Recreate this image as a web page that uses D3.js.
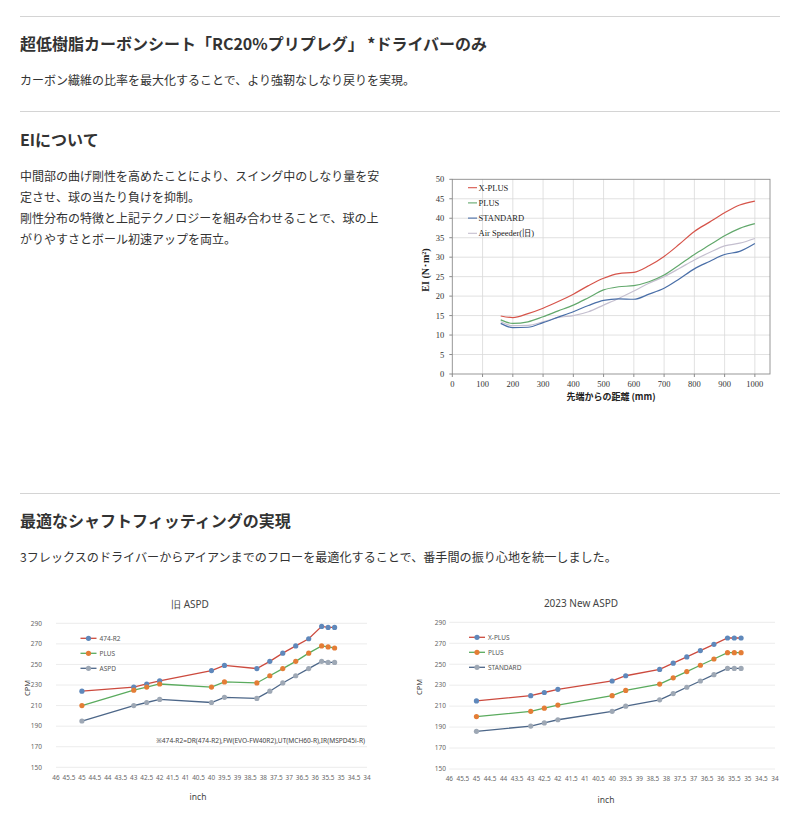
<!DOCTYPE html>
<html><head><meta charset="utf-8">
<script src="https://cdn.jsdelivr.net/npm/d3@7"></script>
<style>
html,body{margin:0;padding:0;background:#fff;}
svg text{font-family:"Noto Sans CJK JP","Noto Sans",sans-serif;}
</style></head>
<body>
<svg id="page" width="800" height="824"></svg>
<script>
// ---------- Text content ----------
const heading1 = "超低樹脂カーボンシート「RC20%プリプレグ」 *ドライバーのみ";
const body1 = "カーボン繊維の比率を最大化することで、より強靭なしなり戻りを実現。";
const heading2 = "EIについて";
const body2 = ["中間部の曲げ剛性を高めたことにより、スイング中のしなり量を安",
               "定させ、球の当たり負けを抑制。",
               "剛性分布の特徴と上記テクノロジーを組み合わせることで、球の上",
               "がりやすさとボール初速アップを両立。"];
const heading3 = "最適なシャフトフィッティングの実現";
const body3 = "3フレックスのドライバーからアイアンまでのフローを最適化することで、番手間の振り心地を統一しました。";

// ---------- EI chart data ----------
const eiDistance = [160,200,250,300,350,400,450,500,550,600,650,700,750,800,850,900,950,1000];
const eiXPlus    = [14.9,14.5,15.5,16.9,18.6,20.5,22.7,24.6,25.8,26.1,27.8,30.2,33.3,36.6,39.0,41.4,43.4,44.4];
const eiPlus     = [13.9,13.0,13.4,14.7,16.2,17.7,19.6,21.6,22.4,22.7,23.7,25.4,28.0,30.7,33.1,35.5,37.4,38.6];
const eiStandard = [13.0,11.9,12.0,13.2,14.6,16.0,17.6,18.9,19.3,19.2,20.5,22.0,24.4,27.0,28.9,30.7,31.5,33.5];
const eiAirSpeeder=[13.4,12.4,12.5,13.4,14.5,15.0,16.0,17.7,19.4,21.3,23.3,25.0,27.1,29.3,31.2,32.9,33.6,34.8];
const eiSeriesNames = ["X-PLUS","PLUS","STANDARD","Air Speeder(旧)"];
const eiXTicks = [0,100,200,300,400,500,600,700,800,900,1000];
const eiYTicks = [0,5,10,15,20,25,30,35,40,45,50];

// ---------- CPM chart data ----------
const cpmLength = [45,43,42.5,42,40,39.5,38.25,37.75,37.25,36.75,36.25,35.75,35.5,35.25];
const oldR2   = [224,228,231,234,244,249,246,253,261,268,275,287,286,286];
const oldPlus = [210,225,228,231,228,233,232,239,246,253,261,268,267,266];
const oldAspd = [195,210,213,216,213,218,217,224,232,239,246,253,252,252];
const newXPlus    = [215,220,223,226,234,239,245,251,257,263,269,275,275,275];
const newPlus     = [200,205,208,211,220,225,231,237,243,249,255,261,261,261];
const newStandard = [186,191,194,197,205,210,216,222,228,234,240,246,246,246];
const oldNames = ["474-R2","PLUS","ASPD"];
const newNames = ["X-PLUS","PLUS","STANDARD"];
const cpmYTicks = [150,170,190,210,230,250,270,290];
const cpmXTicks = d3.range(46, 33.99, -0.5);

const svg = d3.select("#page");

// ---------- page text ----------
function hr(y){ svg.append("line").attr("x1",20).attr("x2",780).attr("y1",y).attr("y2",y)
  .attr("stroke","#d4d4d4").attr("stroke-width",1); }
hr(16.5); hr(111.5); hr(493.5);
function txt(s,x,y,size,weight){ return svg.append("text").attr("x",x).attr("y",y)
  .attr("font-size",size).attr("font-weight",weight||400).attr("fill","#333").text(s); }
txt(heading1,20,50,16,700);
txt(body1,20,84.5,12);
txt(heading2,20,146,16,700);
body2.forEach((s,i)=>txt(s,20,180.5+i*21,12));
txt(heading3,20,527,16,700);
txt(body3,20,561.5,12.1);

// ---------- EI chart ----------
(function(){
  const g = svg.append("g");
  const x = d3.scaleLinear().domain([0,1050]).range([452.3,770]);
  const y = d3.scaleLinear().domain([0,50]).range([374,179.3]);
  const serif = "'Liberation Serif','DejaVu Serif',serif";
  // grid
  g.selectAll(".vg").data(eiXTicks.filter(d=>d>0)).enter().append("line")
    .attr("x1",d=>x(d)).attr("x2",d=>x(d)).attr("y1",y(0)).attr("y2",y(50))
    .attr("stroke","#d9d9d9").attr("stroke-width",0.8);
  g.selectAll(".hg").data(eiYTicks.filter(d=>d>0 && d<50)).enter().append("line")
    .attr("x1",x(0)).attr("x2",x(1050)).attr("y1",d=>y(d)).attr("y2",d=>y(d))
    .attr("stroke","#d9d9d9").attr("stroke-width",0.8);
  // frame
  g.append("rect").attr("x",x(0)).attr("y",y(50)).attr("width",x(1050)-x(0)).attr("height",y(0)-y(50))
    .attr("fill","none").attr("stroke","#8c8c8c").attr("stroke-width",0.9);
  // ticks
  g.selectAll(".yt").data(eiYTicks).enter().append("line")
    .attr("x1",x(0)-3).attr("x2",x(0)).attr("y1",d=>y(d)).attr("y2",d=>y(d)).attr("stroke","#8c8c8c");
  g.selectAll(".xt").data(eiXTicks).enter().append("line")
    .attr("x1",d=>x(d)).attr("x2",d=>x(d)).attr("y1",y(0)).attr("y2",y(0)+3).attr("stroke","#8c8c8c");
  g.selectAll(".yl").data(eiYTicks).enter().append("text")
    .attr("x",x(0)-8).attr("y",d=>y(d)+3).attr("text-anchor","end")
    .style("font-family",serif).attr("font-size",8.5).attr("fill","#333").text(d=>d);
  g.selectAll(".xl").data(eiXTicks).enter().append("text")
    .attr("x",d=>x(d)).attr("y",y(0)+12.5).attr("text-anchor","middle")
    .style("font-family",serif).attr("font-size",8.5).attr("fill","#333").text(d=>d);
  // axis titles
  g.append("text").attr("x",611).attr("y",400).attr("text-anchor","middle")
    .attr("font-size",9).attr("font-weight",700).attr("fill","#222").text("先端からの距離 (mm)");
  g.append("text").attr("transform","translate(429,270) rotate(-90)").attr("text-anchor","middle")
    .style("font-family",serif).attr("font-size",10).attr("font-weight",700).attr("fill","#222").text("EI (N･m²)");
  // lines
  const colors = ["#d6544a","#62a86c","#4a6fa8","#c4bfcf"];
  const series = [eiXPlus,eiPlus,eiStandard,eiAirSpeeder];
  const line = d3.line().x((d,i)=>x(eiDistance[i])).y(d=>y(d)).curve(d3.curveMonotoneX);
  [3,2,1,0].forEach(k=>{
    g.append("path").datum(series[k]).attr("d",line).attr("fill","none")
      .attr("stroke",colors[k]).attr("stroke-width",1.2);
  });
  // legend
  eiSeriesNames.forEach((n,i)=>{
    const ly = 187.7 + i*15.2;
    g.append("line").attr("x1",468).attr("x2",477).attr("y1",ly).attr("y2",ly)
      .attr("stroke",colors[i]).attr("stroke-width",1.1);
    g.append("text").attr("x",478.5).attr("y",ly+3).style("font-family",serif)
      .attr("font-size",8.5).attr("fill","#222").text(n);
  });
})();

// ---------- CPM charts ----------
function cpmChart(opt){
  const g = svg.append("g");
  const x = d3.scaleLinear().domain([46,34]).range(opt.xr);
  const y = d3.scaleLinear().domain([150,290]).range(opt.yr);
  const font = "'Noto Sans','DejaVu Sans',sans-serif";
  g.selectAll(".hg").data(cpmYTicks).enter().append("line")
    .attr("x1",opt.xr[0]).attr("x2",opt.xr[1]).attr("y1",d=>y(d)).attr("y2",d=>y(d))
    .attr("stroke","#ececec").attr("stroke-width",1);
  g.selectAll(".yl").data(cpmYTicks).enter().append("text")
    .attr("x",opt.yLabelX).attr("y",d=>y(d)+2.3).attr("text-anchor","end")
    .style("font-family",font).attr("font-size",6.5).attr("fill","#666").text(d=>d);
  g.selectAll(".xl").data(cpmXTicks).enter().append("text")
    .attr("x",d=>x(d)).attr("y",opt.xLabelY).attr("text-anchor","middle")
    .style("font-family",font).attr("font-size",6.4).attr("fill","#666").text(d=>d3.format("")(d));
  g.append("text").attr("x",opt.titleX).attr("y",opt.titleY).attr("text-anchor","middle")
    .style("font-family",font).attr("font-size",10).attr("fill","#444").text(opt.title);
  g.append("text").attr("x",opt.inchX).attr("y",opt.inchY).attr("text-anchor","middle")
    .style("font-family",font).attr("font-size",8.5).attr("fill","#444").text("inch");
  g.append("text").attr("transform",`translate(${opt.cpmX},${opt.cpmY}) rotate(-90)`).attr("text-anchor","middle")
    .style("font-family",font).attr("font-size",7.5).attr("fill","#444").text("CPM");
  const lineCols = ["#cc4a3e","#5aab5e","#4c6688"];
  const dotCols = ["#5f88bb","#e47d36","#9ea8b5"];
  const line = d3.line().x((d,i)=>x(cpmLength[i])).y(d=>y(d));
  opt.series.forEach((s,k)=>{
    g.append("path").datum(s).attr("d",line).attr("fill","none")
      .attr("stroke",lineCols[k]).attr("stroke-width",1.3);
    g.selectAll(".d"+k).data(s).enter().append("circle")
      .attr("cx",(d,i)=>x(cpmLength[i])).attr("cy",d=>y(d)).attr("r",2.6)
      .attr("fill",dotCols[k]);
  });
  opt.names.forEach((n,i)=>{
    const ly = opt.legY + i*15;
    g.append("line").attr("x1",opt.legX).attr("x2",opt.legX+16).attr("y1",ly).attr("y2",ly)
      .attr("stroke",lineCols[i]).attr("stroke-width",1.3);
    g.append("circle").attr("cx",opt.legX+8).attr("cy",ly).attr("r",2.6).attr("fill",dotCols[i]);
    g.append("text").attr("x",opt.legX+19).attr("y",ly+2.3).style("font-family",font)
      .attr("font-size",6.5).attr("fill","#555").text(n);
  });
  if(opt.note){
    g.append("text").attr("x",opt.noteX).attr("y",opt.noteY).attr("text-anchor","end")
      .style("font-family",font).attr("font-size",6.6).attr("fill","#444").text(opt.note);
  }
}
cpmChart({xr:[56,367], yr:[767.3,623.3], yLabelX:42, xLabelY:779.5, title:"旧 ASPD", titleX:190, titleY:608,
  inchX:198, inchY:800, cpmX:30, cpmY:688, series:[oldR2,oldPlus,oldAspd], names:oldNames,
  legX:80.5, legY:638.3, note:"※474-R2=DR(474-R2),FW(EVO-FW40R2),UT(MCH60-R),IR(MSPD45i-R)", noteX:365, noteY:743});
cpmChart({xr:[449.3,775], yr:[769,622.3], yLabelX:446, xLabelY:781, title:"2023 New ASPD", titleX:581, titleY:607,
  inchX:606, inchY:803, cpmX:422, cpmY:687, series:[newXPlus,newPlus,newStandard], names:newNames,
  legX:469, legY:637.3});
</script>
</body></html>
